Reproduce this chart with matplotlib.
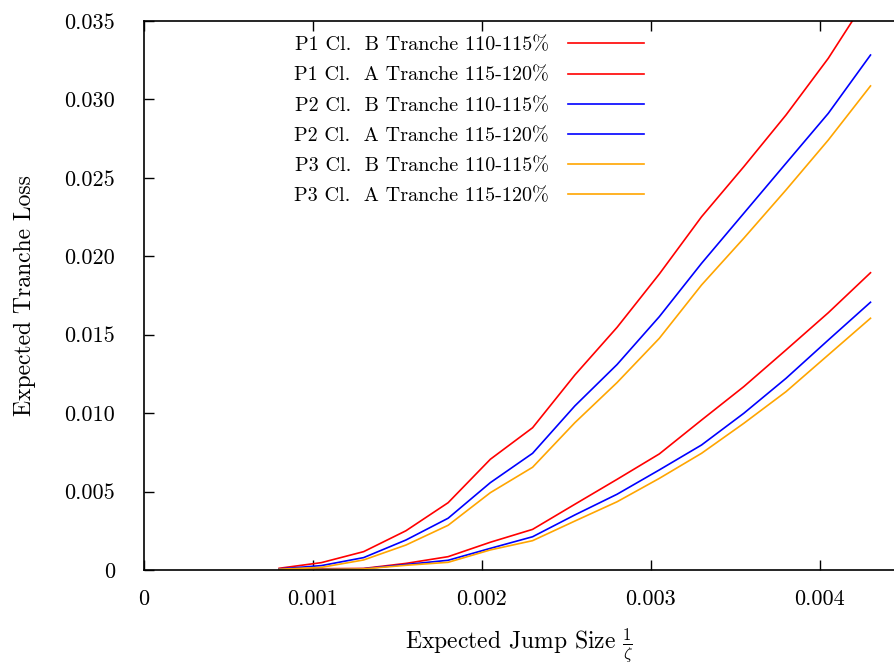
import matplotlib
matplotlib.use("Agg")
import matplotlib.pyplot as plt

plt.rcParams["font.family"] = ["cmr10", "DejaVu Serif"]
plt.rcParams["mathtext.fontset"] = "cm"
plt.rcParams["axes.unicode_minus"] = False

jump_size = [0.0008, 0.00105, 0.0013, 0.00155, 0.0018, 0.00205, 0.0023, 0.00255,
             0.0028, 0.00305, 0.0033, 0.00355, 0.0038, 0.00405, 0.0043]

p1_b = [0.00011, 0.00047, 0.00117, 0.0025, 0.00429, 0.00706, 0.00907, 0.01243,
        0.01547, 0.01887, 0.02252, 0.02571, 0.02901, 0.03262, 0.0368]
p1_a = [0.00003, 0.00008, 0.0001, 0.00042, 0.00085, 0.00177, 0.00259, 0.00419,
        0.00578, 0.0074, 0.00956, 0.01169, 0.01403, 0.0164, 0.01895]
p2_b = [0.00007, 0.00028, 0.00079, 0.00191, 0.0033, 0.00557, 0.00744, 0.01046,
        0.0131, 0.01615, 0.01955, 0.02274, 0.02593, 0.02911, 0.03283]
p2_a = [0.00002, 0.00005, 0.00008, 0.00035, 0.00062, 0.00138, 0.00212, 0.00351,
        0.00483, 0.00638, 0.00797, 0.00999, 0.01222, 0.01466, 0.01707]
p3_b = [0.00005, 0.00017, 0.00064, 0.00159, 0.00285, 0.00493, 0.00655, 0.00939,
        0.01195, 0.01477, 0.01817, 0.02115, 0.02423, 0.02741, 0.03086]
p3_a = [0.00001, 0.00004, 0.00007, 0.0003, 0.00049, 0.00128, 0.00187, 0.00312,
        0.00435, 0.00584, 0.00744, 0.00935, 0.01137, 0.01371, 0.01605]

series = [
    ("P1 Cl.  B Tranche 110-115%", p1_b, "#ff0000"),
    ("P1 Cl.  A Tranche 115-120%", p1_a, "#ff0000"),
    ("P2 Cl.  B Tranche 110-115%", p2_b, "#0000ff"),
    ("P2 Cl.  A Tranche 115-120%", p2_a, "#0000ff"),
    ("P3 Cl.  B Tranche 110-115%", p3_b, "#ffa500"),
    ("P3 Cl.  A Tranche 115-120%", p3_a, "#ffa500"),
]

xticks = [0, 0.001, 0.002, 0.003, 0.004]
xtick_labels = ["0", "0.001", "0.002", "0.003", "0.004"]
yticks = [0, 0.005, 0.01, 0.015, 0.02, 0.025, 0.03, 0.035]
ytick_labels = ["0", "0.005", "0.010", "0.015", "0.020", "0.025", "0.030", "0.035"]

fig = plt.figure(figsize=(8.95, 6.65), dpi=100)
ax = fig.add_axes([144 / 895, 1 - 570 / 665, 751 / 895, 549 / 665])

for label, vals, color in series:
    ax.plot(jump_size, vals, color=color, lw=1.2, label=label)

ax.set_xlim(0, 0.004445)
ax.set_ylim(0, 0.035)
ax.set_xticks(xticks)
ax.set_xticklabels(xtick_labels)
ax.set_yticks(yticks)
ax.set_yticklabels(ytick_labels)
ax.tick_params(axis="both", direction="in", length=7, width=1, labelsize=16,
               top=True, right=False)
ax.tick_params(axis="x", pad=14)
ax.tick_params(axis="y", pad=21)
ax.spines["right"].set_visible(False)
for s in ["left", "bottom", "top"]:
    ax.spines[s].set_linewidth(1.2)

ax.set_xlabel(r"Expected Jump Size $\frac{1}{\zeta}$", fontsize=17, labelpad=12)
ax.set_ylabel("Expected Tranche Loss", fontsize=17, labelpad=20)

leg = ax.legend(loc="upper right", bbox_to_anchor=(0.666, 0.972), frameon=False,
                markerfirst=False, fontsize=14.5, handlelength=3.8,
                labelspacing=0.6, handletextpad=0.95, borderpad=0,
                borderaxespad=0)

fig.savefig("out.png", dpi=100)
